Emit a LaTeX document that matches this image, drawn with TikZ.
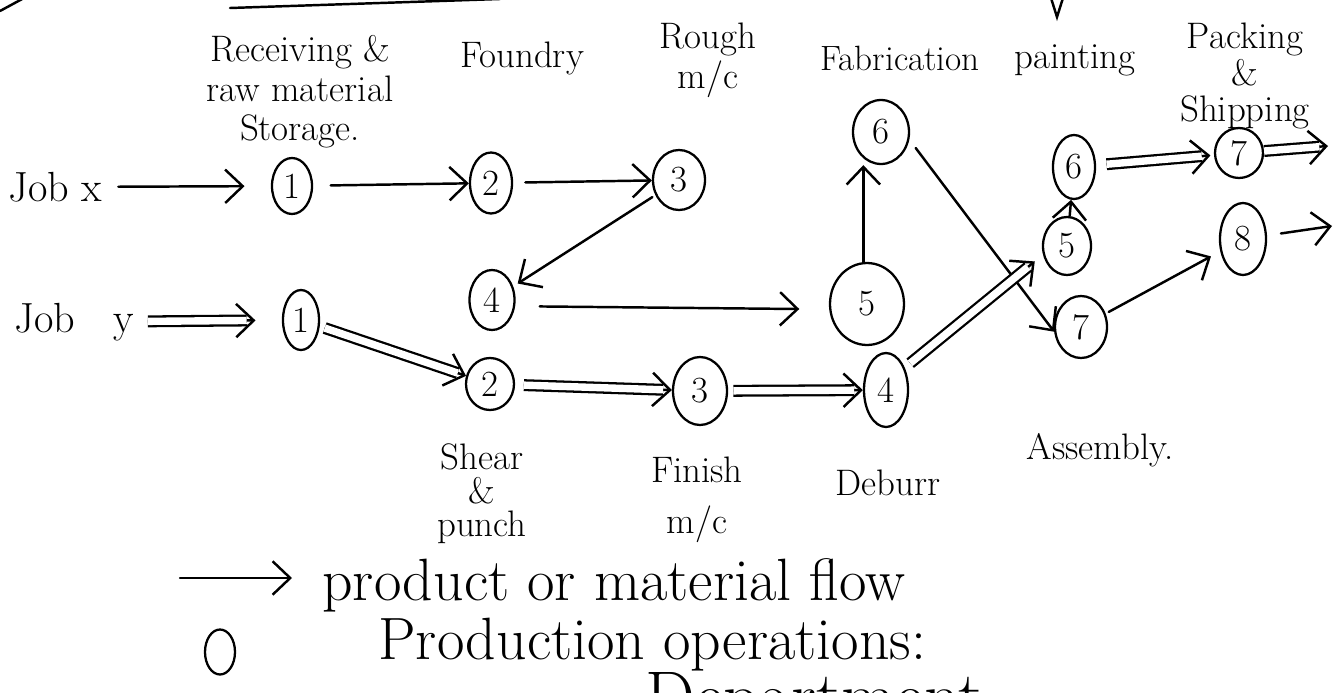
\documentclass[tikz,border=0pt]{standalone}
\usetikzlibrary{arrows.meta,shapes.geometric}
\newcommand\dflow[5]{%
  \draw[flow, line cap=butt, shorten <=#3, shorten >=#4] (#1) -- (#2);
  \draw[dbl, shorten <=#3, shorten >=#5] (#1) -- (#2);}
\begin{document}
\begin{tikzpicture}[x=0.02cm,y=-0.02cm,
  op/.style={ellipse, draw, line width=1.3pt, inner sep=0pt, font=\fontsize{21}{23}\selectfont},
  lbl/.style={align=center, inner sep=0pt, font=\fontsize{20}{22}\selectfont},
  big/.style={inner sep=0pt, font=\fontsize{34}{38}\selectfont},
  flow/.style={line width=1.4pt, line cap=round, -{Straight Barb[length=10pt,width=19pt]}},
  dbl/.style={line width=1.3pt, double=white, double distance=4.2pt},
  stroke/.style={line width=1.4pt, line cap=round}]
\fill[white] (0,0) rectangle (1336,693);
\useasboundingbox (0,0) rectangle (1336,693);
\begin{scope}
\clip (0,0) rectangle (1336,693);
\draw[stroke] (230,8) -- (500,-1);
\draw[stroke] (0,11) -- (24,-2);
\draw[stroke] (1051,-2) -- (1057,17) -- (1063,-2);
\node[inner sep=0pt, font=\fontsize{40}{44}\selectfont, anchor=base west] (dept) at (645,720) {Department};
\end{scope}

% labels
\node[lbl, anchor=west, font=\fontsize{24}{26}\selectfont] (jobx) at (8,187) {Job x};
\node[lbl, anchor=west, font=\fontsize{24}{26}\selectfont] (joby) at (14,322) {Job\hspace{0.9em}y};
\node[lbl, font=\fontsize{21}{22.5}\selectfont] (recv) at (300,92) {Receiving \&\\raw material\\Storage.};
\node[lbl, font=\fontsize{21}{23}\selectfont] (found) at (522,58) {Foundry};
\node[lbl, font=\fontsize{21}{23}\selectfont] (rough) at (708,60) {Rough\\m/c};
\node[lbl] (fab) at (900,58) {Fabrication};
\node[lbl, font=\fontsize{21}{23}\selectfont] (paint) at (1075,60) {painting};
\node[lbl, font=\fontsize{21}{21}\selectfont] (pack) at (1245,76) {Packing\\\&\\Shipping};
\node[lbl, font=\fontsize{21}{19}\selectfont] (shear) at (482,494) {Shear\\\&\\punch};
\node[lbl, font=\fontsize{21}{29}\selectfont] (finish) at (697,500) {Finish\\m/c};
\node[lbl, font=\fontsize{21}{23}\selectfont] (deburr) at (888,483) {Deburr};
\node[lbl, font=\fontsize{21}{23}\selectfont] (assy) at (1100,450) {Assembly.};

% operations
\node[op, minimum width=0.8cm, minimum height=1.12cm] (x1) at (292,186) {1};
\node[op, minimum width=0.84cm, minimum height=1.22cm] (x2) at (491,183) {2};
\node[op, minimum width=1.04cm, minimum height=1.2cm] (x3) at (679,180) {3};
\node[op, minimum width=0.9cm, minimum height=1.2cm] (x4) at (492,300) {4};
\node[op, minimum width=0.72cm, minimum height=1.2cm] (y1) at (301,320) {1};
\node[op, minimum width=0.96cm, minimum height=1.04cm] (y2) at (490,384) {2};
\node[op, minimum width=1.08cm, minimum height=1.36cm] (y3) at (700,391) {3};
\node[op, minimum width=0.88cm, minimum height=1.48cm] (y4) at (886,390) {4};
\node[op, minimum width=1.48cm, minimum height=1.64cm] (f5) at (867,304) {5};
\node[op, minimum width=1.12cm, minimum height=1.28cm] (f6) at (881,132) {6};
\node[op, minimum width=0.84cm, minimum height=1.28cm] (p6) at (1074,167) {6};
\node[op, minimum width=0.96cm, minimum height=1.16cm] (p5) at (1067,246) {5};
\node[op, minimum width=1.04cm, minimum height=1.24cm] (a7) at (1081,327) {7};
\node[op, minimum width=0.96cm, minimum height=1.0cm] (s7) at (1239,153) {7};
\node[op, minimum width=0.92cm, minimum height=1.44cm] (s8) at (1243,239) {8};

\coordinate (o1) at (1328,146);
\coordinate (o2) at (1332,226);

% job x flow (single arrows)
\draw[flow, shorten <=9pt, shorten >=15pt] (jobx) -- (x1);
\draw[flow, shorten <=10pt, shorten >=0pt] (x1) -- (x2);
\draw[flow, shorten <=7pt, shorten >=0pt] (x2) -- (x3);
\draw[flow, shorten <=2pt, shorten >=3pt] (x3) -- (x4);
\draw[flow, shorten <=14pt, shorten >=17pt] (x4.-15) -- (f5.188);
\draw[flow, shorten <=0pt, shorten >=0pt] (f5.95) -- (f5.95 |- f6.south);
\draw[flow, shorten <=6pt, shorten >=0pt] (f6.-15) -- (a7.190);
\draw[flow, shorten <=0pt, shorten >=0pt] (p5) -- (p6);
\dflow{p6}{s7}{6pt}{2pt}{7pt}
\dflow{s7}{o1}{0pt}{0pt}{5pt}
\draw[flow, shorten <=2pt, shorten >=6pt] (a7) -- (s8);
\draw[flow, shorten <=8pt, shorten >=0pt] (s8) -- (o2);

% job y flow (double arrows)
\dflow{joby}{y1}{8pt}{15pt}{20pt}
\dflow{y1}{y2}{3pt}{0pt}{5pt}
\dflow{y2}{y3}{5pt}{0pt}{5pt}
\dflow{y3}{y4}{3pt}{0pt}{5pt}
\dflow{y4.50}{p5.200}{4pt}{6pt}{11pt}

% legend
\coordinate (la) at (180,578);
\coordinate (lb) at (292,578);
\draw[flow] (la) -- (lb);
\node[big, anchor=west] (lflow) at (322,585) {product or material flow};
\node[ellipse, draw, line width=1.3pt, minimum width=0.6cm, minimum height=0.9cm, inner sep=0pt] (lop) at (220,652) {};
\node[big, anchor=west] (lprod) at (378,645) {Production operations:};
\end{tikzpicture}
\end{document}
